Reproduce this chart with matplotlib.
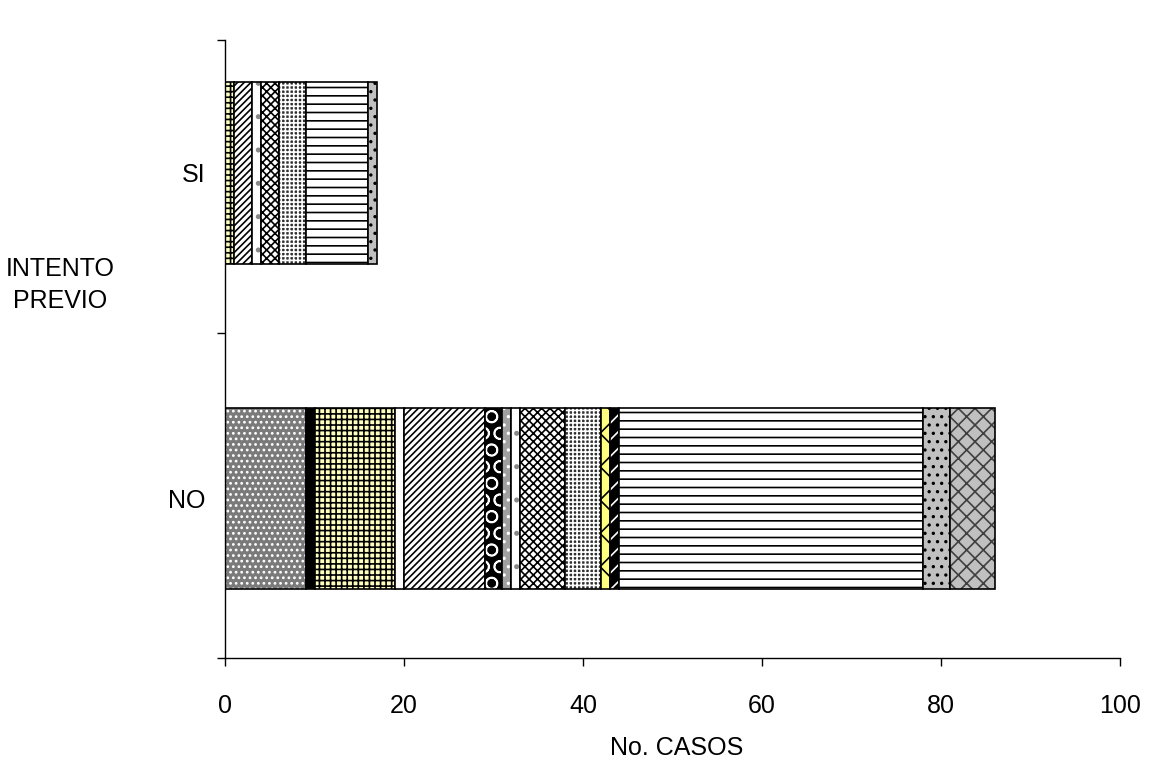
import matplotlib
matplotlib.use("Agg")
import matplotlib.pyplot as plt
import numpy as np

plt.rcParams['font.family'] = ['Liberation Sans', 'DejaVu Sans']
plt.rcParams['hatch.linewidth'] = 1.2

categories = ["NO", "SI"]
series_no = [9, 1, 9, 1, 9, 2, 1, 1, 5, 4, 1, 1, 34, 3, 5]
series_si = [0, 0, 1, 0, 2, 0, 0, 1, 2, 3, 0, 0, 7, 1, 0]
x_ticks = [0, 20, 40, 60, 80, 100]
x_label = "No. CASOS"
y_label = "INTENTO\nPREVIO"

# (facecolor, hatch, hatchcolor)
styles = [
    ("#7a7a7a", "...", "white"),
    ("black", "", "black"),
    ("#ffffc0", "+++", "black"),
    ("white", "", "black"),
    ("white", "/////", "black"),
    ("black", "O", "white"),
    ("#a0a0a0", "..", "white"),
    ("white", ".", "#888888"),
    ("white", "xxxx", "black"),
    ("#303030", "++++", "white"),
    ("#ffff80", "x", "black"),
    ("black", "//", "white"),
    ("white", "--", "black"),
    ("#c0c0c0", "..", "black"),
    ("#c0c0c0", "xx", "#404040"),
]

fig = plt.figure(figsize=(11.52, 7.66), dpi=100)
ax = fig.add_axes([225/1152, 1-658/766, (1120-225)/1152, (658-40)/766])

ypos = np.arange(len(categories))
values = np.array([series_no, series_si]).T  # shape (nseries, ncat)
left = np.zeros(len(categories))
h = 0.557
for i, (fc, hatch, hc) in enumerate(styles):
    v = values[i]
    ax.barh(ypos, v, left=left, height=h, color=fc, edgecolor='none', linewidth=0)
    if hatch:
        ax.barh(ypos, v, left=left, height=h, color='none', edgecolor=hc,
                hatch=hatch, linewidth=0)
    mask = v > 0
    ax.barh(ypos[mask], v[mask], left=left[mask], height=h, color='none',
            edgecolor='black', linewidth=1.2)
    left = left + v

fs = 18
ax.set_xlim(0, 100)
ax.set_ylim(-0.492, 1.409)
ax.set_xticks(x_ticks)
ax.set_xticklabels([str(t) for t in x_ticks], fontsize=fs)
ax.set_yticks(ypos)
ax.set_yticklabels(categories, fontsize=fs)
ax.tick_params(axis='y', length=0, pad=14)
ax.set_yticks([-0.492, 0.508, 1.409], minor=True)
ax.tick_params(axis='y', which='minor', length=6, width=1, direction='out')
ax.tick_params(axis='x', length=6, width=1, direction='out', pad=20)

for s in ['top', 'right']:
    ax.spines[s].set_visible(False)
for s in ['left', 'bottom']:
    ax.spines[s].set_color('black')
    ax.spines[s].set_linewidth(1)

fig.text(60/1152, 1-285/766, y_label, ha='center', va='center', fontsize=fs,
         linespacing=1.45)
fig.text(677/1152, 1-748/766, x_label, ha='center', va='center', fontsize=fs)

fig.savefig("out.png", dpi=100)
